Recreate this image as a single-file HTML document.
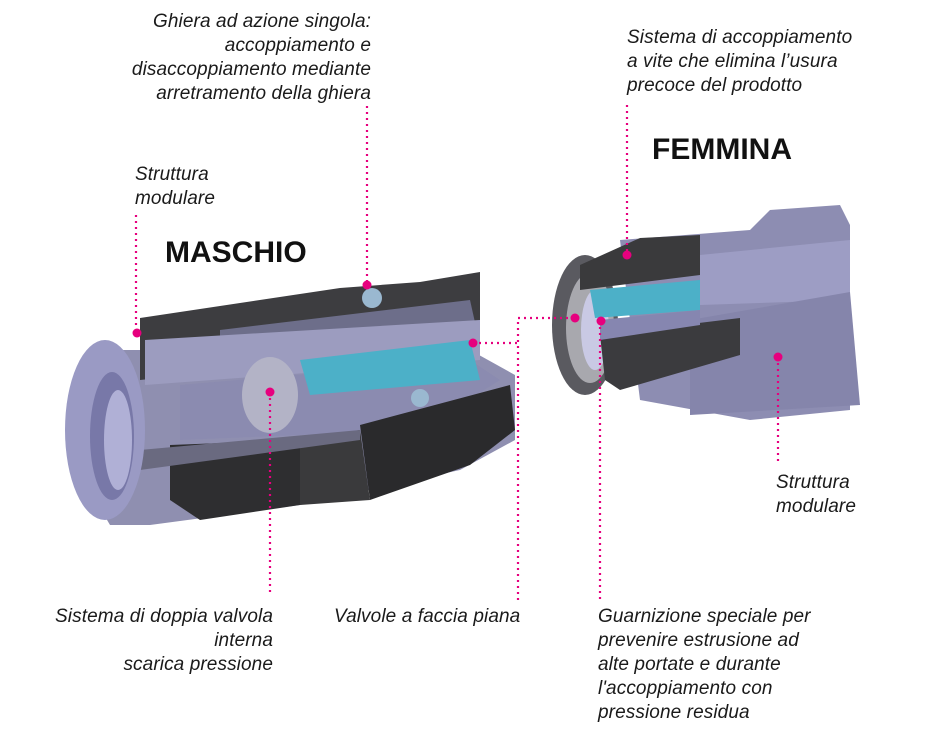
<!DOCTYPE html>
<html><head><meta charset="utf-8"><style>
html,body{margin:0;padding:0;background:#fff}
svg{display:block}
.t{font-family:"Liberation Sans",sans-serif;font-style:italic;font-size:19px;fill:#1a1a1a;letter-spacing:0.1px}
.h{font-family:"Liberation Sans",sans-serif;font-weight:bold;font-size:30px;fill:#111}
.d{stroke:#e6007e;stroke-width:2.2;stroke-dasharray:2 4;fill:none}
.dot{fill:#e6007e}
</style></head><body>
<svg width="950" height="730" viewBox="0 0 950 730">
<g>
 <path d="M90 350 L470 350 L515 375 L515 440 L460 470 L300 505 L150 525 L110 525 Q70 460 80 380 Z" fill="#8f8fb0"/>
 <path d="M140 318 L340 288 L420 282 L480 272 L480 340 L240 370 L140 380 Z" fill="#3d3d40"/>
 <path d="M220 330 L470 300 L480 345 L220 370 Z" fill="#6d6e8a"/>
 <path d="M145 340 L480 320 L480 360 L145 385 Z" fill="#9c9cbf"/>
 <path d="M180 385 L470 360 L500 380 L420 430 L180 440 Z" fill="#8b8bb0"/>
 <path d="M300 360 L470 340 L480 380 L310 395 Z" fill="#4cb0c8"/>
 <ellipse cx="270" cy="395" rx="28" ry="38" fill="#b3b3c6"/>
 <path d="M170 445 L300 440 L300 505 L200 520 L170 500 Z" fill="#2e2e30"/>
 <path d="M300 440 L360 430 L370 500 L300 505 Z" fill="#3a3a3c"/>
 <path d="M360 425 L510 385 L515 430 L470 465 L370 500 Z" fill="#2a2a2c"/>
 <path d="M140 450 L360 430 L360 440 L140 470 Z" fill="#6a6a80"/>
 <ellipse cx="105" cy="430" rx="40" ry="90" fill="#9a9ac4"/>
 <ellipse cx="112" cy="436" rx="22" ry="64" fill="#7878a8"/>
 <ellipse cx="118" cy="440" rx="14" ry="50" fill="#b0b0d6"/>
 <circle cx="372" cy="298" r="10" fill="#9ab8d0"/>
 <circle cx="420" cy="398" r="9" fill="#9ab8d0"/>
</g>
<g>
 <path d="M620 240 L750 230 L770 210 L840 205 L850 225 L850 410 L750 420 L640 400 Z" fill="#8d8db2"/>
 <path d="M700 255 L850 240 L850 300 L700 305 Z" fill="#9d9dc4"/>
 <path d="M690 320 L850 292 L860 405 L690 415 Z" fill="#8585ab"/>
 <ellipse cx="585" cy="325" rx="33" ry="70" fill="#5a5a60"/>
 <ellipse cx="590" cy="328" rx="24" ry="55" fill="#a8a8ae"/>
 <ellipse cx="595" cy="330" rx="14" ry="40" fill="#c9c9e4"/>
 <path d="M580 265 L640 238 L700 235 L700 275 L580 290 Z" fill="#3a3a3c"/>
 <path d="M590 290 L700 280 L700 310 L595 318 Z" fill="#4cb0c8"/>
 <path d="M600 335 L740 318 L740 355 L620 390 L605 380 Z" fill="#3b3b3e"/>
 <path d="M600 320 L700 310 L700 325 L600 340 Z" fill="#8686b0"/>
</g>
<path class="d" d="M136 215 L136 333"/><circle class="dot" cx="137" cy="333" r="4.5"/>
<path class="d" d="M367 106 L367 285"/><circle class="dot" cx="367" cy="285" r="4.5"/>
<path class="d" d="M473 343 L518 343 M518 600 L518 318 L575 318"/><circle class="dot" cx="473" cy="343" r="4.5"/><circle class="dot" cx="575" cy="318" r="4.5"/>
<path class="d" d="M270 392 L270 596"/><circle class="dot" cx="270" cy="392" r="4.5"/>
<path class="d" d="M627 105 L627 255"/><circle class="dot" cx="627" cy="255" r="4.5"/>
<path class="d" d="M600 321 L600 600"/><circle class="dot" cx="601" cy="321" r="4.5"/>
<path class="d" d="M778 357 L778 462"/><circle class="dot" cx="778" cy="357" r="4.5"/>
<text class="h" x="165" y="262">MASCHIO</text>
<text class="h" x="652" y="159">FEMMINA</text>
<text class="t" x="371" y="27" text-anchor="end">Ghiera ad azione singola:</text>
<text class="t" x="371" y="51" text-anchor="end">accoppiamento e</text>
<text class="t" x="371" y="75" text-anchor="end">disaccoppiamento mediante</text>
<text class="t" x="371" y="99" text-anchor="end">arretramento della ghiera</text>
<text class="t" x="135" y="180">Struttura</text>
<text class="t" x="135" y="204">modulare</text>
<text class="t" x="627" y="43">Sistema di accoppiamento</text>
<text class="t" x="627" y="67">a vite che elimina l’usura</text>
<text class="t" x="627" y="91">precoce del prodotto</text>
<text class="t" x="776" y="488">Struttura</text>
<text class="t" x="776" y="512">modulare</text>
<text class="t" x="273" y="622" text-anchor="end">Sistema di doppia valvola</text>
<text class="t" x="273" y="646" text-anchor="end">interna</text>
<text class="t" x="273" y="670" text-anchor="end">scarica pressione</text>
<text class="t" x="334" y="622">Valvole a faccia piana</text>
<text class="t" x="598" y="622">Guarnizione speciale per</text>
<text class="t" x="598" y="646">prevenire estrusione ad</text>
<text class="t" x="598" y="670">alte portate e durante</text>
<text class="t" x="598" y="694">l'accoppiamento con</text>
<text class="t" x="598" y="718">pressione residua</text>
</svg>
</body></html>
